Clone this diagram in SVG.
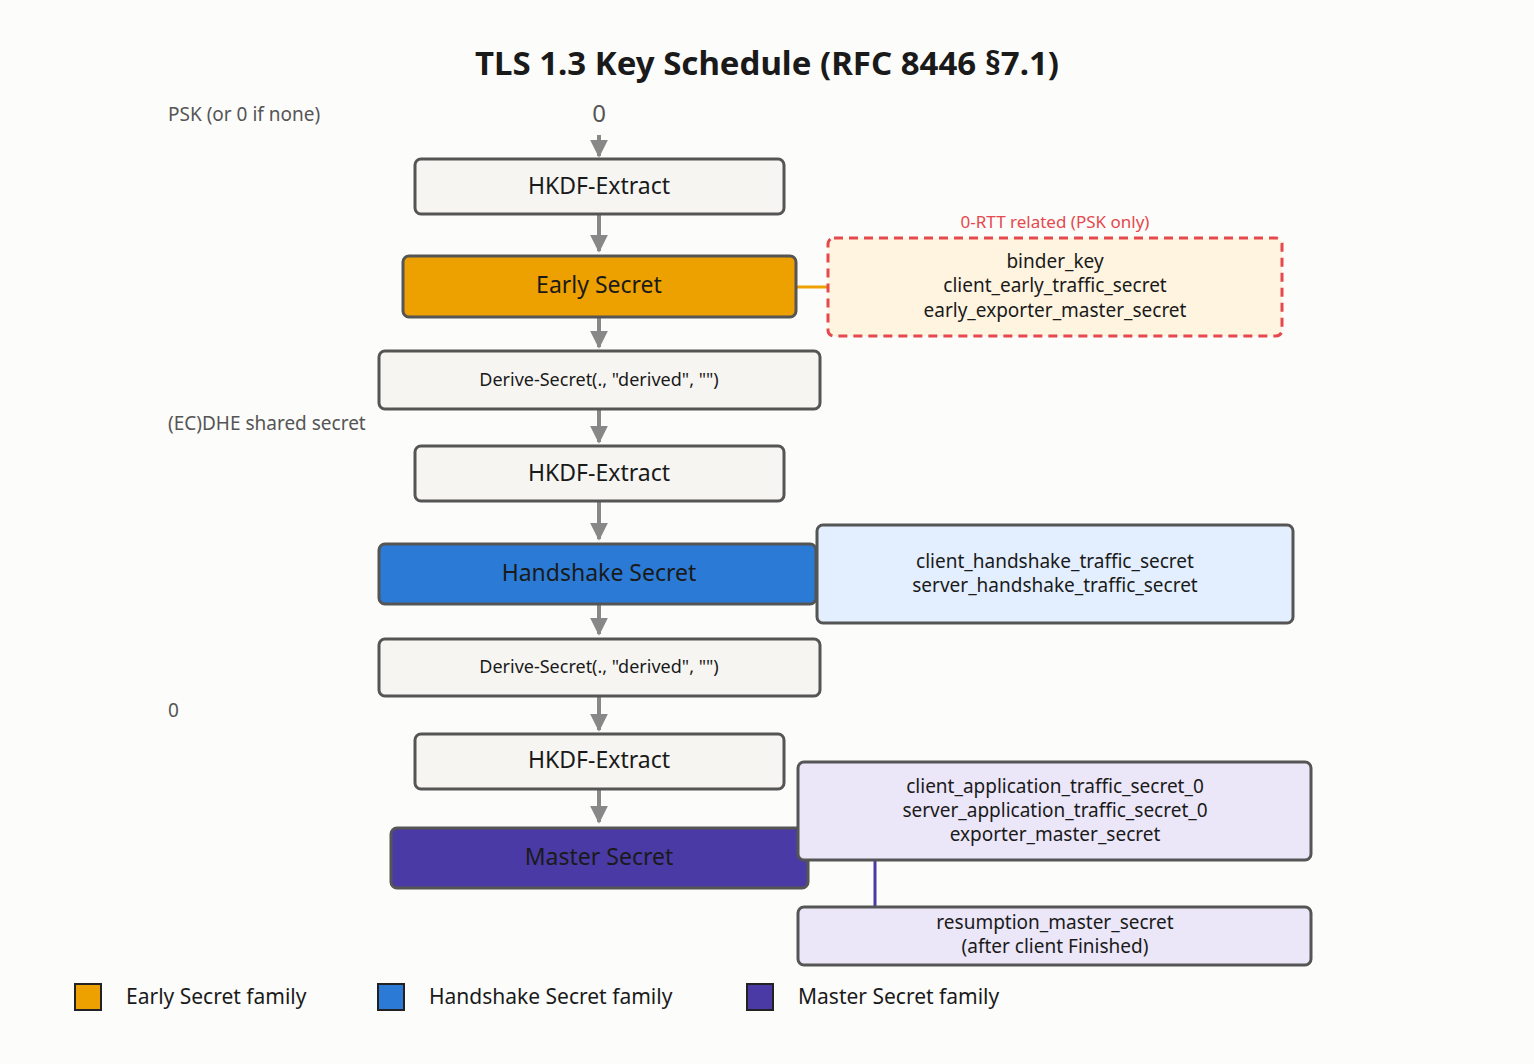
<svg xmlns="http://www.w3.org/2000/svg" width="1534" height="1064" viewBox="0 0 1534 1064">
<defs>
<marker id="ah" viewBox="0 0 10 10" refX="9" refY="5" markerWidth="4.5" markerHeight="4.5" orient="auto" markerUnits="strokeWidth"><path d="M0,0 L10,5 L0,10 z" fill="#888"/></marker>
<style>
text{font-family:"Noto Sans","Liberation Sans",sans-serif;text-anchor:middle;fill:#1a1a1a}
.box{fill:#f6f5f2;stroke:#555;stroke-width:3}
.t{font-size:23px}
.s{font-size:19px}
.side{font-size:19px;fill:#555;text-anchor:start}
.arr{stroke:#888;stroke-width:4;fill:none;marker-end:url(#ah)}
.leg{font-size:21px;text-anchor:start}
</style>
</defs>
<rect width="1534" height="1064" fill="#fcfcfb"/>
<text x="767" y="75" style="font-size:33px;font-weight:bold" fill="#111">TLS 1.3 Key Schedule (RFC 8446 §7.1)</text>
<text class="side" x="168" y="121">PSK (or 0 if none)</text>
<text x="599" y="122" style="font-size:24px;fill:#555">0</text>
<text class="side" x="168" y="430">(EC)DHE shared secret</text>
<text class="side" x="168" y="717">0</text>
<g id="connectors">
<line class="arr" x1="599" y1="135" x2="599" y2="156"/>
<line class="arr" x1="599" y1="214" x2="599" y2="251"/>
<line class="arr" x1="599" y1="317" x2="599" y2="347"/>
<line class="arr" x1="599" y1="409" x2="599" y2="442"/>
<line class="arr" x1="599" y1="501" x2="599" y2="539"/>
<line class="arr" x1="599" y1="604" x2="599" y2="634"/>
<line class="arr" x1="599" y1="696" x2="599" y2="730"/>
<line class="arr" x1="599" y1="789" x2="599" y2="822"/>
<line x1="796" y1="287" x2="828" y2="287" stroke="#eda100" stroke-width="3"/>
<line x1="875" y1="860" x2="875" y2="907" stroke="#4a3aa6" stroke-width="3"/>
</g>
<g id="hkdf1"><rect class="box" x="415" y="159" width="369" height="55" rx="6"/><text class="t" x="599" y="194">HKDF-Extract</text></g>
<g id="early"><rect x="403" y="256" width="393" height="61" rx="6" fill="#eda100" stroke="#555" stroke-width="3"/><text class="t" x="599" y="293" fill="#333">Early Secret</text></g>
<g id="early-derived">
<text x="1055" y="228" style="font-size:17px;fill:#e5484d">0-RTT related (PSK only)</text>
<rect x="828" y="238" width="454" height="98" rx="6" fill="#fff4e0" stroke="#e5484d" stroke-width="3" stroke-dasharray="9,6"/>
<text class="s" x="1055" y="268">binder_key</text>
<text class="s" x="1055" y="292">client_early_traffic_secret</text>
<text class="s" x="1055" y="317">early_exporter_master_secret</text>
</g>
<g id="derive1"><rect class="box" x="379" y="351" width="441" height="58" rx="6"/><text x="599" y="386" style="font-size:18px">Derive-Secret(., "derived", "")</text></g>
<g id="hkdf2"><rect class="box" x="415" y="446" width="369" height="55" rx="6"/><text class="t" x="599" y="481">HKDF-Extract</text></g>
<g id="handshake"><rect x="379" y="544" width="437" height="60" rx="6" fill="#2a7ad6" stroke="#555" stroke-width="3"/><text class="t" x="599" y="581" fill="#fff">Handshake Secret</text></g>
<g id="handshake-derived"><rect x="817" y="525" width="476" height="98" rx="6" fill="#e3efff" stroke="#555" stroke-width="3"/>
<text class="s" x="1055" y="568">client_handshake_traffic_secret</text>
<text class="s" x="1055" y="592">server_handshake_traffic_secret</text></g>
<g id="derive2"><rect class="box" x="379" y="639" width="441" height="57" rx="6"/><text x="599" y="673" style="font-size:18px">Derive-Secret(., "derived", "")</text></g>
<g id="hkdf3"><rect class="box" x="415" y="734" width="369" height="55" rx="6"/><text class="t" x="599" y="768">HKDF-Extract</text></g>
<g id="master"><rect x="391" y="828" width="417" height="60" rx="6" fill="#4a3aa6" stroke="#555" stroke-width="3"/><text class="t" x="599" y="865" fill="#fff">Master Secret</text></g>
<g id="master-derived"><rect x="798" y="762" width="513" height="98" rx="6" fill="#ebe6f8" stroke="#555" stroke-width="3"/>
<text class="s" x="1055" y="793">client_application_traffic_secret_0</text>
<text class="s" x="1055" y="817">server_application_traffic_secret_0</text>
<text class="s" x="1055" y="841">exporter_master_secret</text></g>
<g id="resumption"><rect x="798" y="907" width="513" height="58" rx="6" fill="#ebe6f8" stroke="#555" stroke-width="3"/>
<text class="s" x="1055" y="929">resumption_master_secret</text>
<text class="s" x="1055" y="953">(after client Finished)</text></g>
<g id="legend">
<rect x="75" y="984" width="26" height="26" fill="#eda100" stroke="#222" stroke-width="2"/><text class="leg" x="126" y="1004">Early Secret family</text>
<rect x="378" y="984" width="26" height="26" fill="#2a7ad6" stroke="#222" stroke-width="2"/><text class="leg" x="429" y="1004">Handshake Secret family</text>
<rect x="747" y="984" width="26" height="26" fill="#4a3aa6" stroke="#222" stroke-width="2"/><text class="leg" x="798" y="1004">Master Secret family</text>
</g>
</svg>
